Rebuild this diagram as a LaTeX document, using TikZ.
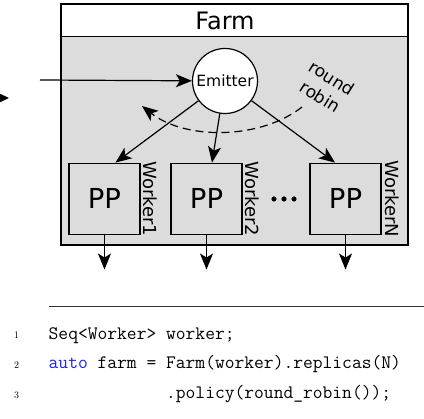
\documentclass[tikz,border=0pt]{standalone}
\usepackage{fontspec}
\newfontfamily\dv{DejaVu Sans}
\usetikzlibrary{arrows.meta,calc}
\definecolor{farmgray}{RGB}{220,220,220}
\definecolor{kwblue}{RGB}{30,30,255}
\begin{document}
\begin{tikzpicture}[x=1pt,y=-1pt,
  arr/.style={line width=1.2pt,-{Stealth[length=16pt,width=13pt,inset=4pt]}},
  ppbox/.style={draw,line width=1.2pt,fill=farmgray,minimum width=71pt,minimum height=71pt,inner sep=0pt,font=\dv\fontsize{27.5}{30}\selectfont},
  wlabel/.style={rotate=-90,inner sep=0pt,font=\dv\fontsize{18}{20}\selectfont},
  codeline/.style={anchor=base west,inner sep=0pt,font=\ttfamily\fontsize{19}{23}\selectfont},
  lineno/.style={anchor=base,inner sep=0pt,font=\fontsize{10}{12}\selectfont}]
\useasboundingbox (0,0) rectangle (424,419);
% clipped arrowhead remnant at left edge
\fill (9,98) -- (-8,90) -- (-3,98) -- (-8,106) -- cycle;
% farm frame
\fill[farmgray] (61,36.5) rectangle (408,245);
\draw[line width=1.6pt] (61,4) rectangle (408,245);
\draw[line width=1.4pt] (61,36.5) -- (408,36.5);
\node[inner sep=0pt,font=\dv\fontsize{24}{26}\selectfont] (farm) at (225,20.5) {Farm};
% emitter
\node[circle,draw,line width=1.2pt,fill=white,minimum size=65pt,inner sep=0pt,font=\dv\fontsize{15.5}{17}\selectfont] (em) at (225,81) {Emitter};
\coordinate (in) at (40,80);
\draw[arr] (in) -- (em);
% workers
\node[ppbox] (b1) at (104.5,198.7) {PP};
\node[ppbox] (b2) at (206.5,198.7) {PP};
\node[ppbox] (b3) at (345.5,198.7) {PP};
\node[wlabel] (l1) at (150.5,198.7) {Worker1};
\node[wlabel] (l2) at (252.5,198.7) {Worker2};
\node[wlabel] (l3) at (392,198.7) {WorkerN};
\fill (274,199) circle (2.6) (284,199) circle (2.6) (294,199) circle (2.6);
% emitter to workers
\draw[arr] (em) -- ([xshift=11pt]b1.north);
\draw[arr] (em) -- ([xshift=5.5pt]b2.north);
\draw[arr] (em) -- ([xshift=-10.5pt]b3.north);
% outputs
\coordinate (o1) at (104.5,269.5);
\coordinate (o2) at (206.5,269.5);
\coordinate (o3) at (345.5,269.5);
\draw[arr] (b1.south) -- (o1);
\draw[arr] (b2.south) -- (o2);
\draw[arr] (b3.south) -- (o3);
% round robin
\coordinate (rr1) at (302,107);
\coordinate (rr2) at (142,106);
\draw[line width=1.2pt,dash pattern=on 8pt off 5pt,-{Stealth[length=16pt,width=13pt,inset=4pt]}] (rr1) .. controls (260,140) and (185,140) .. (rr2);
\node[rotate=-32,align=center,inner sep=0pt,font=\dv\fontsize{17}{22}\selectfont] (rr) at (326,87.5) {round\\robin};
% code
\coordinate (ruleA) at (49,306);
\coordinate (ruleB) at (424,306);
\draw[line width=0.8pt,black!80] (ruleA) -- (ruleB);
\node[lineno] (n1) at (16.5,339) {1};
\node[lineno] (n2) at (16.5,368.8) {2};
\node[lineno] (n3) at (16.5,398.3) {3};
\node[codeline] (c1) at (48.5,339.3) {Seq<Worker> worker;};
\node[codeline] (c2) at (48.5,368.8) {\textcolor{kwblue}{auto} farm = Farm(worker).replicas(N)};
\node[codeline] (c3) at (48.5,398.3) {\hphantom{auto farm = }.policy(round\_robin());};
\end{tikzpicture}
\end{document}
